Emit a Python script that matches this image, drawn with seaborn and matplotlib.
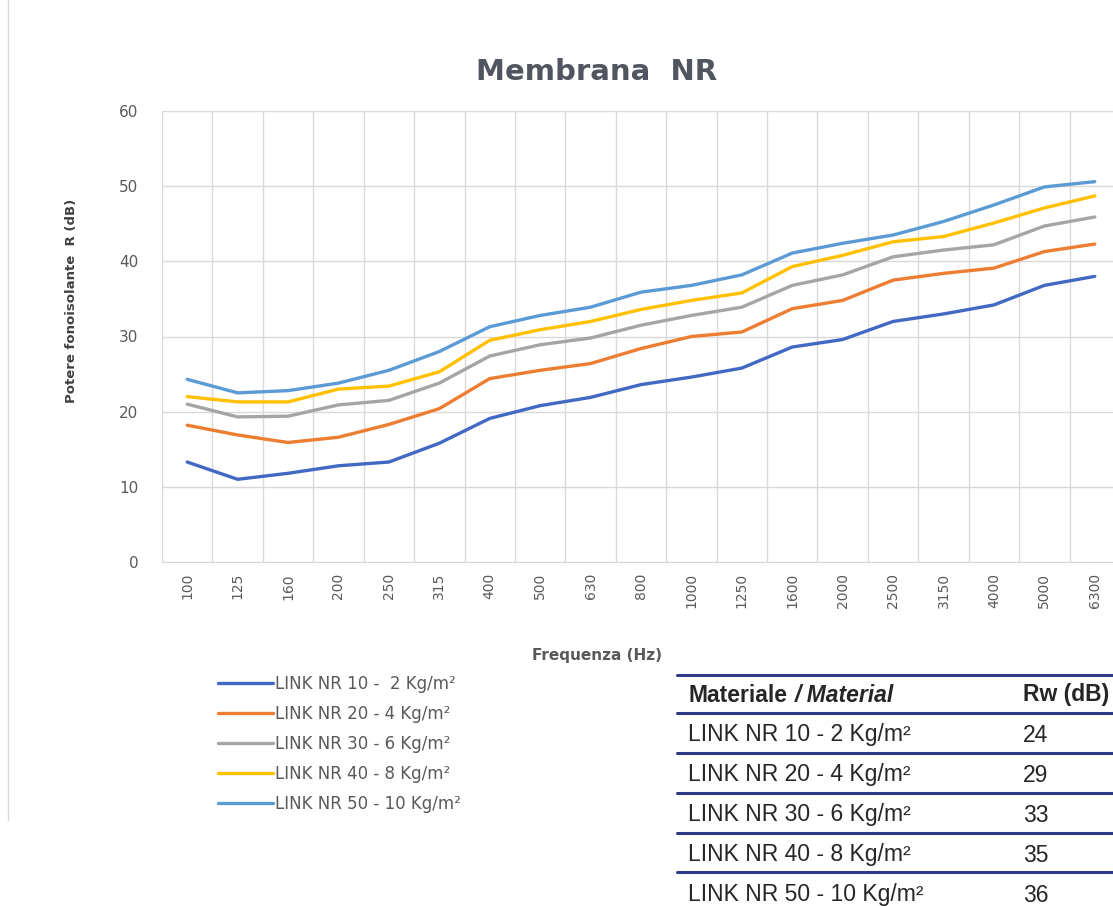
import pandas as pd
import seaborn as sns
import matplotlib.pyplot as plt
from matplotlib.lines import Line2D
from matplotlib.ticker import FixedLocator

# Frequenze (Hz) e potere fonoisolante R (dB)
freq = ['100', '125', '160', '200', '250', '315', '400', '500', '630', '800',
        '1000', '1250', '1600', '2000', '2500', '3150', '4000', '5000', '6300']

nr10 = [13.3, 11.0, 11.8, 12.8, 13.3, 15.8, 19.1, 20.8, 21.9, 23.6,
        24.6, 25.8, 28.6, 29.6, 32.0, 33.0, 34.2, 36.8, 38.0]
nr20 = [18.2, 16.9, 15.9, 16.6, 18.3, 20.4, 24.4, 25.5, 26.4, 28.4,
        30.0, 30.6, 33.7, 34.8, 37.5, 38.4, 39.1, 41.3, 42.3]
nr30 = [21.0, 19.3, 19.4, 20.9, 21.5, 23.8, 27.4, 28.9, 29.8, 31.5,
        32.8, 33.9, 36.8, 38.2, 40.6, 41.5, 42.2, 44.7, 45.9]
nr40 = [22.0, 21.3, 21.3, 23.0, 23.4, 25.3, 29.5, 30.9, 32.0, 33.6,
        34.8, 35.8, 39.3, 40.8, 42.6, 43.3, 45.1, 47.1, 48.7]
nr50 = [24.3, 22.5, 22.8, 23.8, 25.5, 28.0, 31.3, 32.8, 33.9, 35.9,
        36.8, 38.2, 41.1, 42.4, 43.5, 45.3, 47.5, 49.9, 50.6]

serie = ['LINK NR 10 -  2 Kg/m²', 'LINK NR 20 - 4 Kg/m²', 'LINK NR 30 - 6 Kg/m²',
         'LINK NR 40 - 8 Kg/m²', 'LINK NR 50 - 10 Kg/m²']
colori = ['#4169c4', '#ed7d31', '#a5a5a5', '#ffc000', '#5b9bd5']

# Tabella Rw
materiali = ['LINK NR 10 - 2 Kg/m²', 'LINK NR 20 - 4 Kg/m²', 'LINK NR 30 - 6 Kg/m²',
             'LINK NR 40 - 8 Kg/m²', 'LINK NR 50 - 10 Kg/m²']
rw = [24, 29, 33, 35, 36]

rows = []
for nome, valori in zip(serie, [nr10, nr20, nr30, nr40, nr50]):
    for f, v in zip(freq, valori):
        rows.append((f, v, nome))
df = pd.DataFrame(rows, columns=['Frequenza', 'R', 'Serie'])

sns.set_style('white')
plt.rcParams['font.family'] = ['DejaVu Sans']

W, H = 1113, 906
fig = plt.figure(figsize=(W / 100, H / 100), dpi=100)
ax = fig.add_axes([162 / W, 1 - 562 / H, 958 / W, 451 / H])

sns.lineplot(data=df, x='Frequenza', y='R', hue='Serie', palette=colori,
             linewidth=2.4, sort=False, ax=ax)

grigio = '#595959'
ax.set_xlim(-0.5, len(freq) - 0.5)
ax.set_ylim(0, 60)
ax.set_yticks(range(0, 61, 10))
ax.xaxis.set_minor_locator(FixedLocator([i - 0.5 for i in range(len(freq) + 1)]))
ax.grid(which='minor', axis='x', color='#d9d9d9', lw=1)
ax.grid(which='major', axis='y', color='#d9d9d9', lw=1)
ax.grid(which='major', axis='x', visible=False)
ax.tick_params(axis='x', which='major', length=0, labelrotation=90, labelsize=10,
               labelcolor=grigio, pad=8)
ax.tick_params(axis='x', which='minor', length=4, color='#d9d9d9')
ax.tick_params(axis='y', length=0, labelsize=11, labelcolor=grigio, pad=17)
for s in ['top', 'right', 'left']:
    ax.spines[s].set_visible(False)
ax.spines['bottom'].set_color('#d9d9d9')

ax.set_ylabel('Potere fonoisolante  R (dB)', fontsize=9.5, fontweight='bold',
              color='#404040')
ax.yaxis.set_label_coords(-0.088, 0.58)
ax.set_xlabel('Frequenza (Hz)', fontsize=11, fontweight='bold', color=grigio)
ax.xaxis.set_label_coords(0.454, -0.19)

fig.text(597 / W, 1 - 72 / H, 'Membrana  NR', ha='center', va='center',
         fontsize=21, fontweight='bold', color='#50555f')

handles, labels = ax.get_legend_handles_labels()
ax.legend(handles, labels, loc='upper left', bbox_to_anchor=(203 / W, 1 - 660 / H),
          bbox_transform=fig.transFigure, frameon=False, fontsize=12,
          handlelength=3.3, handletextpad=0.1, labelspacing=0.72, labelcolor=grigio)

# bordo sinistro del riquadro del grafico
fig.add_artist(Line2D([8 / W, 8 / W], [1, 1 - 820 / H], transform=fig.transFigure,
                      color='#d9d9d9', lw=1))

# tabella Rw
navy = '#2e3a87'
tab = ['Liberation Sans', 'DejaVu Sans']
fs = 16.5
linee_y = [675, 713, 753, 793, 833, 872]
for y in linee_y:
    fig.add_artist(Line2D([677 / W, 1], [1 - y / H, 1 - y / H], transform=fig.transFigure,
                          color=navy, lw=2.2))
fig.text(688 / W, 1 - 695 / H, 'Materiale', family=tab, fontsize=fs, fontweight='bold',
         va='center')
fig.text(795 / W, 1 - 695 / H, '/ Material', family=tab, fontsize=fs, fontweight='bold',
         style='italic', va='center')
fig.text(1023 / W, 1 - 695 / H, 'Rw (dB)', family=tab, fontsize=fs, fontweight='bold',
         va='center')
for i, (m, r) in enumerate(zip(materiali, rw)):
    y = 1 - (735 + 40 * i) / H
    fig.text(688 / W, y, m, family=tab, fontsize=fs, va='center')
    fig.text(1023 / W, y, str(r), family=tab, fontsize=fs, va='center')

fig.savefig('out.png', dpi=100)
